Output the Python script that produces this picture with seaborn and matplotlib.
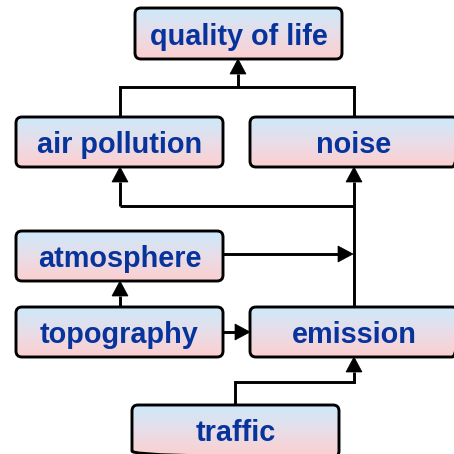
import numpy as np
import matplotlib
matplotlib.use("Agg")
import matplotlib.pyplot as plt
import seaborn as sns
from matplotlib.patches import FancyBboxPatch, Polygon
from matplotlib.colors import LinearSegmentedColormap

sns.set_theme(style="white")
plt.rcParams['font.family'] = ['Liberation Sans', 'DejaVu Sans']

# nodes: label, left, top, right, bottom (pixel coordinates of the diagram)
node_labels = ["quality of life", "air pollution", "noise", "atmosphere",
               "topography", "emission", "traffic"]
node_left = [135, 16, 250, 16, 16, 250, 132]
node_top = [8, 117, 117, 231, 307, 307, 405]
node_right = [342, 223, 458, 223, 223, 458, 339]
node_bottom = [59, 167, 167, 281, 357, 357, 457]

# connectors: polylines, arrow at last point
edge_paths = [
    [(238, 87), (238, 59)],
    [(120, 117), (120, 87), (354, 87), (354, 117)],
    [(120, 206), (120, 167)],
    [(354, 307), (354, 167)],
    [(120, 206), (354, 206)],
    [(223, 254), (353, 254)],
    [(120, 307), (120, 281)],
    [(223, 332), (250, 332)],
    [(235, 405), (235, 382), (354, 382), (354, 357)],
]
edge_arrow = [True, False, True, True, False, True, True, True, True]

W = H = 454
fig = plt.figure(figsize=(4.54, 4.54), dpi=100)
ax = fig.add_axes([0, 0, 1, 1])
ax.set_xlim(0, W)
ax.set_ylim(H, 0)
ax.axis("off")

lw = 2.1
cmap = LinearSegmentedColormap.from_list("g", ["#cde9fa", "#e8dde8", "#fdcfcf"])
grad = np.linspace(0, 1, 100).reshape(-1, 1)

for lab, l, t, r, b in zip(node_labels, node_left, node_top, node_right, node_bottom):
    patch = FancyBboxPatch((l, t), r - l, b - t, boxstyle="round,pad=0,rounding_size=6",
                           facecolor="none", edgecolor="black", linewidth=lw, zorder=3)
    ax.add_patch(patch)
    im = ax.imshow(grad, extent=(l, r, b, t), cmap=cmap, aspect="auto", zorder=2,
                   interpolation="bilinear")
    im.set_clip_path(patch)
    ax.text((l + r) / 2, min(b, 455) - 14, lab,
            ha="center", va="baseline", fontsize=20.8, fontweight="bold",
            color="#06349c", zorder=4)

ah_len, ah_w = 15, 16
for path, arr in zip(edge_paths, edge_arrow):
    xs = [p[0] for p in path]
    ys = [p[1] for p in path]
    if arr:
        (x0, y0), (x1, y1) = path[-2], path[-1]
        d = np.array([x1 - x0, y1 - y0], float)
        d /= np.linalg.norm(d)
        base = np.array([x1, y1]) - d * ah_len
        xs[-1], ys[-1] = base[0], base[1]
        perp = np.array([-d[1], d[0]])
        tri = [(x1, y1), tuple(base + perp * ah_w / 2), tuple(base - perp * ah_w / 2)]
        ax.add_patch(Polygon(tri, closed=True, facecolor="black", edgecolor="black",
                             linewidth=0.5, zorder=1))
    ax.plot(xs, ys, color="black", linewidth=lw, solid_joinstyle="miter",
            solid_capstyle="butt", zorder=1)

fig.savefig("out.png", dpi=100)
